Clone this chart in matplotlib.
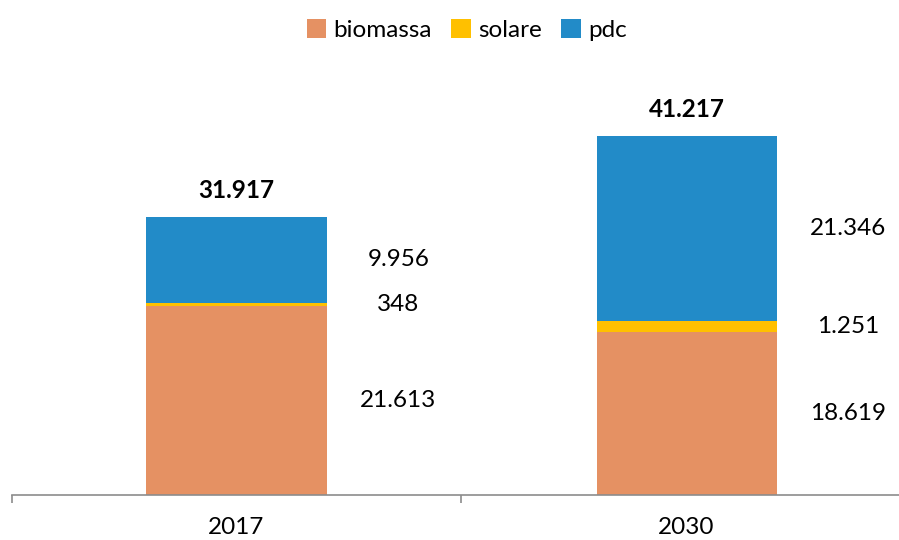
import numpy as np
import matplotlib.pyplot as plt

plt.rcParams['font.family'] = ['Lato', 'DejaVu Sans']

years = ['2017', '2030']
biomassa = [21613, 18619]
solare = [348, 1251]
pdc = [9956, 21346]
totali = [31917, 41217]

series = [('biomassa', biomassa, '#E59163'),
          ('solare', solare, '#FFC000'),
          ('pdc', pdc, '#228BC8')]


def fmt(v):
    return f"{v:,}".replace(',', '.')


fig = plt.figure(figsize=(8.99, 5.40), dpi=100)
W, H = 899, 540
ax = fig.add_axes([11.5 / W, (H - 494.5) / H, 900 / W, 435.5 / H])

x = np.arange(len(years))
bottom = np.zeros(len(years))
for name, vals, col in series:
    vals = np.array(vals)
    ax.bar(x, vals, width=0.4, bottom=bottom, color=col, label=name, zorder=2)
    for xi, b, v in zip(x, bottom, vals):
        ax.text(xi + 0.36, b + v / 2, fmt(v), ha='center', va='center',
                fontsize=17.5, color='black')
    bottom += vals

for xi, top, tot in zip(x, bottom, totali):
    ax.annotate(fmt(tot), (xi, top), xytext=(0, 19), textcoords='offset points',
                ha='center', va='center', fontsize=17.5, fontweight='bold')

ax.set_xlim(-0.5, 1.5)
ax.set_ylim(0, 50000)
ax.set_yticks([])
for s in ['top', 'right', 'left']:
    ax.spines[s].set_visible(False)
ax.spines['bottom'].set_color('#8C8C8C')
ax.spines['bottom'].set_linewidth(1.2)

ax.set_xticks(x)
ax.set_xticklabels(years, fontsize=17.5)
ax.tick_params(axis='x', which='major', length=0, pad=16)
ax.set_xticks([-0.5, 0.5, 1.5], minor=True)
ax.tick_params(axis='x', which='minor', length=6, width=1.2, color='#8C8C8C')

fig.legend(loc='upper center', bbox_to_anchor=(0.519, 1.005), ncol=3, frameon=False,
           fontsize=17.5, handlelength=0.8, handleheight=0.8, handletextpad=0.3,
           columnspacing=0.8)

fig.savefig('out.png', dpi=100)
